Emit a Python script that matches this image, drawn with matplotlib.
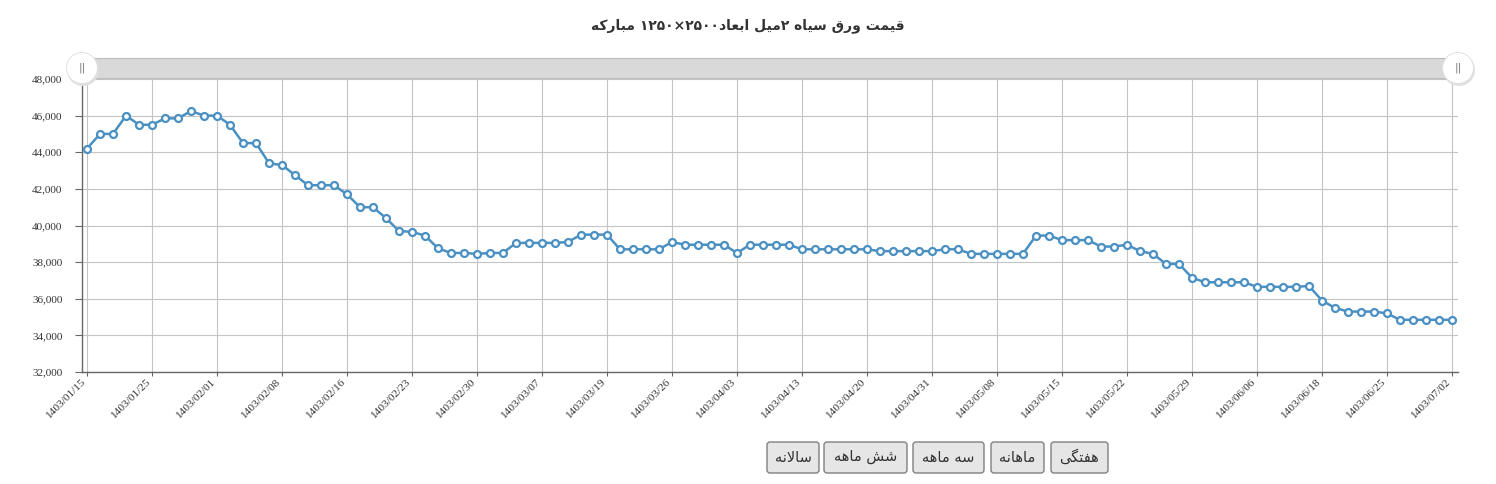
import numpy as np
import matplotlib
matplotlib.use('Agg')
import matplotlib.pyplot as plt
from matplotlib.patches import FancyBboxPatch, Circle, Rectangle

# chart data
title_fa = 'قیمت ورق سیاه ۲میل ابعاد۲۵۰۰×۱۲۵۰ مبارکه'
button_labels = ['هفتگی', 'ماهانه', 'سه ماهه', 'شش ماهه', 'سالانه']
tick_dates = ['1403/01/15', '1403/01/25', '1403/02/01', '1403/02/08', '1403/02/16',
              '1403/02/23', '1403/02/30', '1403/03/07', '1403/03/19', '1403/03/26',
              '1403/04/03', '1403/04/13', '1403/04/20', '1403/04/31', '1403/05/08',
              '1403/05/15', '1403/05/22', '1403/05/29', '1403/06/06', '1403/06/18',
              '1403/06/25', '1403/07/02']
prices = [44200, 45000, 45000, 46000, 45500, 45500, 45850, 45850, 46250, 46000,
          46000, 45500, 44500, 44500, 43400, 43300, 42750, 42200, 42200, 42200,
          41700, 41000, 41000, 40400, 39700, 39650, 39450, 38750, 38500, 38500,
          38450, 38500, 38500, 39050, 39050, 39050, 39050, 39100, 39500, 39500,
          39500, 38700, 38700, 38700, 38700, 39100, 38950, 38950, 38950, 38950,
          38500, 38950, 38950, 38950, 38950, 38700, 38700, 38700, 38700, 38700,
          38700, 38600, 38600, 38600, 38600, 38600, 38700, 38700, 38450, 38450,
          38450, 38450, 38450, 39450, 39450, 39200, 39200, 39200, 38850, 38850,
          38950, 38600, 38450, 37900, 37900, 37150, 36900, 36900, 36900, 36900,
          36650, 36650, 36650, 36650, 36700, 35900, 35500, 35300, 35300, 35300,
          35200, 34850, 34850, 34850, 34850, 34850]
tick_step = 5

# matplotlib has no arabic shaping, so pick the joined glyph forms by hand
FORMS = {
    'ا': (0xFE8D, 0xFE8E, None, None),
    'ب': (0xFE8F, 0xFE90, 0xFE91, 0xFE92),
    'ت': (0xFE95, 0xFE96, 0xFE97, 0xFE98),
    'د': (0xFEA9, 0xFEAA, None, None),
    'ر': (0xFEAD, 0xFEAE, None, None),
    'س': (0xFEB1, 0xFEB2, 0xFEB3, 0xFEB4),
    'ش': (0xFEB5, 0xFEB6, 0xFEB7, 0xFEB8),
    'ع': (0xFEC9, 0xFECA, 0xFECB, 0xFECC),
    'ف': (0xFED1, 0xFED2, 0xFED3, 0xFED4),
    'ق': (0xFED5, 0xFED6, 0xFED7, 0xFED8),
    'ل': (0xFEDD, 0xFEDE, 0xFEDF, 0xFEE0),
    'م': (0xFEE1, 0xFEE2, 0xFEE3, 0xFEE4),
    'ن': (0xFEE5, 0xFEE6, 0xFEE7, 0xFEE8),
    'ه': (0xFEE9, 0xFEEA, 0xFEEB, 0xFEEC),
    'و': (0xFEED, 0xFEEE, None, None),
    'ک': (0xFB8E, 0xFB8F, 0xFB90, 0xFB91),
    'گ': (0xFB92, 0xFB93, 0xFB94, 0xFB95),
    'ی': (0xFBFC, 0xFBFD, 0xFBFE, 0xFBFF),
}
DIGITS = set('0123456789۰۱۲۳۴۵۶۷۸۹')


def fa(text):
    out = []
    prev_joins = False
    i = 0
    while i < len(text):
        ch = text[i]
        nxt = text[i + 1] if i + 1 < len(text) else ''
        if ch not in FORMS:
            out.append(ch)
            prev_joins = False
            i += 1
            continue
        if ch == 'ل' and nxt == 'ا':
            out.append(chr(0xFEFC if prev_joins else 0xFEFB))
            prev_joins = False
            i += 2
            continue
        iso, fin, ini, med = FORMS[ch]
        next_joins = ini is not None and nxt in FORMS
        if prev_joins and next_joins:
            g = med
        elif prev_joins:
            g = fin
        elif next_joins:
            g = ini
        else:
            g = iso
        out.append(chr(g))
        prev_joins = ini is not None
        i += 1
    # visual order: reverse, but keep digit runs left to right
    tokens = []
    for ch in out:
        if ch in DIGITS and tokens and tokens[-1][-1] in DIGITS:
            tokens[-1] += ch
        else:
            tokens.append(ch)
    return ''.join(reversed(tokens))


W, H = 1496, 484
fig = plt.figure(figsize=(W / 100, H / 100), dpi=100)
fig.patch.set_facecolor('white')

ax_l, ax_r, ax_t, ax_b = 82, 1458, 79, 372
ax = fig.add_axes([ax_l / W, 1 - ax_b / H, (ax_r - ax_l) / W, (ax_b - ax_t) / H])

x = np.arange(len(prices))
ax.plot(x, prices, color='#4a90c2', lw=1.8, marker='o', ms=5,
        mfc='white', mec='#4a90c2', mew=1.6, zorder=3, clip_on=False)

ax.set_ylim(32000, 48000)
ax.set_yticks(np.arange(32000, 48001, 2000))
ax.yaxis.set_major_formatter(matplotlib.ticker.FuncFormatter(lambda v, p: f'{int(v):,}'))
n = len(prices)
ax.set_xlim(-(87 - ax_l) / 13, (n - 1) + (ax_r - 1452) / 13)
ax.set_xticks(x[::tick_step])
ax.set_xticklabels(tick_dates, rotation=45, ha='right', va='top')

ax.grid(True, axis='both', color='#c4c4c4', lw=0.8)
ax.set_axisbelow(True)
for s in ['top', 'right']:
    ax.spines[s].set_visible(False)
for s in ['left', 'bottom']:
    ax.spines[s].set_color('#666666')
    ax.spines[s].set_linewidth(1.0)

ax.tick_params(axis='y', length=5, width=0.8, color='#666666', pad=9,
               labelsize=8, labelcolor='#333333')
ax.tick_params(axis='x', length=3, width=0.8, color='#666666', pad=1,
               labelsize=8.2, labelcolor='#333333')
for lab in ax.get_xticklabels() + ax.get_yticklabels():
    lab.set_fontfamily('Liberation Serif')

px = fig.dpi_scale_trans


def P(xp, yp):
    return xp / 100, (H - yp) / 100


# title
fig.text(748 / W, 1 - 26 / H, fa(title_fa), ha='center', va='center',
         fontsize=10, fontweight='bold', color='#333333', family=['DejaVu Sans'])

# navigator / scroll bar
bx, by = P(ax_l, 78)
fig.add_artist(Rectangle((bx, by), (ax_r - ax_l) / 100, 20 / 100, transform=px,
                         facecolor='#d9d9d9', edgecolor='#bdbdbd', lw=0.8))
for hx in (ax_l, ax_r):
    cx, cy = P(hx, 68)
    fig.add_artist(Circle((cx + 0.01, cy - 0.02), 16 / 100, transform=px,
                          facecolor='#e0e0e0', edgecolor='none'))
    fig.add_artist(Circle((cx, cy), 15.5 / 100, transform=px,
                          facecolor='white', edgecolor='#dddddd', lw=0.6))
    fig.text(cx, cy, '||', transform=px, ha='center', va='center',
             fontsize=8, color='#777777')

# range buttons
boxes = [(1051, 1108), (991, 1044), (913, 984), (824, 907), (767, 819)]
for lab, (x0, x1) in zip(button_labels, boxes):
    bx0, by0 = P(x0, 473)
    fig.add_artist(FancyBboxPatch((bx0, by0), (x1 - x0) / 100, 31 / 100,
                                  boxstyle='round,pad=0,rounding_size=0.03',
                                  transform=px, facecolor='#e6e6e6',
                                  edgecolor='#808080', lw=1.0))
    tx, ty = P((x0 + x1) / 2, 457)
    fig.text(tx, ty, fa(lab), transform=px, ha='center', va='center',
             fontsize=10.5, color='#333333', family=['DejaVu Sans'])

fig.savefig('out.png', dpi=100, facecolor='white')
